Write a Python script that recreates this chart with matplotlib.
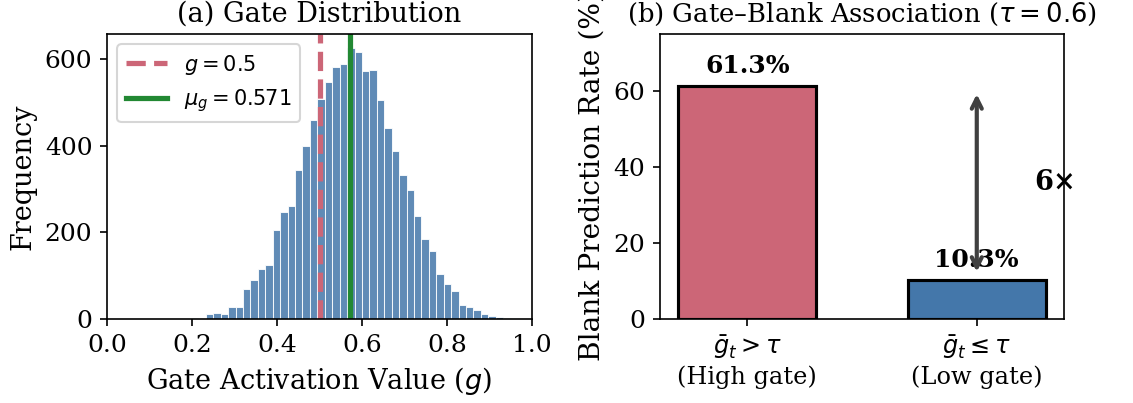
"""Gate distribution histogram and gate-blank association bars."""

import matplotlib

matplotlib.use("Agg")
import matplotlib.pyplot as plt  # noqa: E402
import numpy as np

# --- data ---
gate_bin_start = 0.1976
gate_bin_width = 0.01749
gate_counts = [
    2, 1, 12, 14, 12, 28, 28, 69, 90, 116, 124, 205, 246, 260, 344, 400,
    459, 508, 546, 582, 589, 626, 616, 572, 574, 505, 441, 388, 332, 297,
    238, 185, 157, 104, 81, 65, 32, 28, 21, 12, 8, 5, 2,
]
gate_threshold = 0.5
gate_mean = 0.571

tau = 0.6
groups = ["$\\bar{g}_t > \\tau$\n(High gate)", "$\\bar{g}_t \\leq \\tau$\n(Low gate)"]
blank_rates = [61.3, 10.3]

RED = "#CC6677"
BLUE = "#4477AA"
GREEN = "#228833"

plt.rcParams["font.family"] = "serif"
plt.rcParams["font.size"] = 12

fig = plt.figure(figsize=(1133 / 150, 403 / 150), dpi=150)
ax1 = fig.add_axes([107 / 1133, 1 - 319 / 403, 425 / 1133, 285 / 403])
ax2 = fig.add_axes([660 / 1133, 1 - 319 / 403, 404 / 1133, 285 / 403])

# (a) histogram
counts = np.asarray(gate_counts, dtype=float)
edges = gate_bin_start + gate_bin_width * np.arange(len(counts) + 1)
ax1.hist(edges[:-1], bins=edges, weights=counts, color=BLUE, alpha=0.85,
         edgecolor="white", linewidth=0.5)
ax1.axvline(gate_threshold, color=RED, ls="--", lw=2.5, label=f"$g = {gate_threshold}$")
ax1.axvline(gate_mean, color=GREEN, ls="-", lw=2.5, label=f"$\\mu_g = {gate_mean}$")
ax1.set_xlim(0, 1)
ax1.set_xlabel("Gate Activation Value ($g$)", fontsize=13)
ax1.set_ylabel("Frequency", fontsize=13)
ax1.set_title("(a) Gate Distribution", fontsize=13)
ax1.legend(loc="upper left", fontsize=10)

# (b) blank rate bars
x = np.arange(len(groups))
ax2.bar(x, blank_rates, width=0.6, color=[RED, BLUE], edgecolor="black", linewidth=1.5)
for xi, v in zip(x, blank_rates):
    ax2.text(xi, v + 2, f"{v}%", ha="center", va="bottom", fontweight="bold", fontsize=12)
ax2.annotate("", xy=(1, blank_rates[0] - 1), xytext=(1, blank_rates[1] + 1),
             arrowprops=dict(arrowstyle="<->", color="#404040", lw=2))
ratio = blank_rates[0] / blank_rates[1]
ax2.text(1.25, (blank_rates[0] + blank_rates[1]) / 2, f"{ratio:.0f}×",
         ha="left", va="center", fontweight="bold", fontsize=13)
ax2.set_xticks(x)
ax2.set_xticklabels(groups, fontsize=11.5)
ax2.set_ylim(0, 75)
ax2.set_ylabel("Blank Prediction Rate (%)", fontsize=13.5)
ax2.set_title(f"(b) Gate–Blank Association ($\\tau = {tau}$)", fontsize=12.4)

fig.savefig("out.png", dpi=150)
